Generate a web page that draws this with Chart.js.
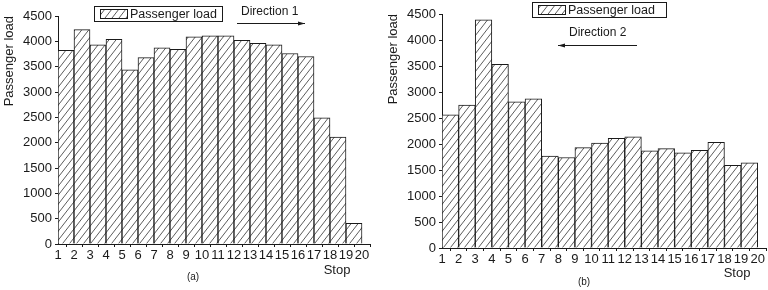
<!DOCTYPE html>
<html>
<head>
<meta charset="utf-8">
<script src="https://cdn.jsdelivr.net/npm/chart.js@4.4.1/dist/chart.umd.min.js"></script>
<style>
  html, body { margin: 0; padding: 0; background: #fff; }
  #wrap { position: relative; width: 768px; height: 290px; }
  .panel { position: absolute; top: 0; width: 384px; height: 290px; }
</style>
</head>
<body>
<div id="wrap">
  <div class="panel" style="left:0"><canvas id="dir1" width="384" height="290"></canvas></div>
  <div class="panel" style="left:384px"><canvas id="dir2" width="384" height="290"></canvas></div>
</div>
<script>
// stops along the route (x ticks), one bar per segment between stops
var stops = [1, 2, 3, 4, 5, 6, 7, 8, 9, 10, 11, 12, 13, 14, 15, 16, 17, 18, 19, 20];
var yTicks = [0, 500, 1000, 1500, 2000, 2500, 3000, 3500, 4000, 4500];

// passenger load per segment
var loadDir1 = [3820, 4230, 3930, 4040, 3440, 3680, 3870, 3840, 4090, 4110,
                4110, 4020, 3960, 3930, 3760, 3700, 2490, 2110, 410];
var loadDir2 = [2560, 2750, 4390, 3530, 2810, 2870, 1770, 1740, 1930, 2020,
                2110, 2140, 1870, 1910, 1830, 1880, 2030, 1590, 1640];

var FONT = '"Liberation Sans", Arial, sans-serif';
var INK = "#1a1a1a";

Chart.defaults.font.family = FONT;
Chart.defaults.font.size = 13;
Chart.defaults.color = INK;

// "////" hatch fill, a bit steeper than 45 degrees
function hatchPattern() {
  var w = 7, h = 9;
  var c = document.createElement("canvas");
  c.width = w;
  c.height = h;
  var g = c.getContext("2d");
  g.fillStyle = "#fff";
  g.fillRect(0, 0, w, h);
  g.strokeStyle = "#4a4a4a";
  g.lineWidth = 0.9;
  g.beginPath();
  g.moveTo(0, h); g.lineTo(w, 0);
  g.moveTo(-w, h); g.lineTo(w, -h);
  g.moveTo(0, 2 * h); g.lineTo(2 * w, 0);
  g.stroke();
  return g.createPattern(c, "repeat");
}

// legend, direction arrow, "Stop" and caption
var decorPlugin = {
  id: "decor",
  afterDraw: function (chart, args, o) {
    var ctx = chart.ctx;
    ctx.save();
    ctx.strokeStyle = INK;
    ctx.fillStyle = INK;
    ctx.lineWidth = 1;

    // legend box
    var L = o.legend;
    ctx.strokeRect(L.x + 0.5, L.y + 0.5, L.w, L.h);
    ctx.fillStyle = hatchPattern();
    ctx.fillRect(L.x + 6, L.y + 3, 27, L.h - 6);
    ctx.strokeRect(L.x + 6.5, L.y + 3.5, 27, L.h - 6);
    ctx.fillStyle = INK;
    ctx.font = "12.5px " + FONT;
    ctx.textBaseline = "middle";
    ctx.textAlign = "left";
    ctx.fillText("Passenger load", L.x + 36, L.y + L.h / 2 + 1);

    // direction text + arrow
    var D = o.dir;
    ctx.font = "12px " + FONT;
    ctx.fillText(D.text, D.tx, D.ty);
    ctx.beginPath();
    ctx.moveTo(D.x0, D.ay + 0.5);
    ctx.lineTo(D.x1, D.ay + 0.5);
    ctx.stroke();
    var s = D.x1 > D.x0 ? 1 : -1;
    ctx.beginPath();
    ctx.moveTo(D.x1, D.ay + 0.5);
    ctx.lineTo(D.x1 - s * 7, D.ay - 1.5);
    ctx.lineTo(D.x1 - s * 7, D.ay + 2.5);
    ctx.closePath();
    ctx.fill();

    // axis name and panel caption
    ctx.font = "13px " + FONT;
    ctx.textAlign = "center";
    ctx.fillText("Stop", o.stop.x, o.stop.y);
    ctx.font = "10px " + FONT;
    ctx.fillText(o.caption.text, o.caption.x, o.caption.y);
    ctx.restore();
  }
};

function createChart(canvasId, values, pad, xAxisHeight, decor) {
  var ctx = document.getElementById(canvasId).getContext("2d");
  var points = values.map(function (v, i) {
    return { x: stops[i] + 0.5, y: v };
  });
  return new Chart(ctx, {
    type: "bar",
    data: {
      datasets: [{
        label: "Passenger load",
        data: points,
        backgroundColor: hatchPattern(),
        borderColor: INK,
        borderWidth: 1,
        barPercentage: 1,
        categoryPercentage: 1
      }]
    },
    plugins: [decorPlugin],
    options: {
      responsive: false,
      animation: false,
      devicePixelRatio: 1,
      layout: { padding: pad },
      plugins: {
        legend: { display: false },
        tooltip: { enabled: false },
        decor: decor
      },
      scales: {
        x: {
          type: "linear",
          offset: false,
          min: stops[0],
          max: stops[stops.length - 1] + 0.5,
          afterFit: function (scale) { scale.height = xAxisHeight; },
          ticks: {
            stepSize: 1,
            includeBounds: false,
            autoSkip: false,
            maxRotation: 0,
            padding: 1,
            color: INK
          },
          grid: { display: true, drawOnChartArea: false, tickLength: 3, color: INK },
          border: { color: INK, width: 1 }
        },
        y: {
          min: yTicks[0],
          max: yTicks[yTicks.length - 1],
          afterFit: function (scale) { scale.width = 58; },
          ticks: {
            stepSize: 250,
            padding: 3,
            color: INK,
            callback: function (v) { return yTicks.indexOf(v) >= 0 ? v : ""; }
          },
          grid: { display: true, drawOnChartArea: false, tickLength: 3, color: INK },
          border: { color: INK, width: 1 },
          title: {
            display: true,
            text: "Passenger load",
            align: "end",
            padding: { top: 2, bottom: 0 },
            font: { size: 13 },
            color: INK
          }
        }
      }
    }
  });
}

createChart("dir1", loadDir1, { top: 16, right: 14, left: 0, bottom: 0 }, 46, {
  legend: { x: 94, y: 6, w: 128, h: 15 },
  dir: { text: "Direction 1", tx: 241, ty: 12, x0: 237, x1: 305, ay: 23 },
  stop: { x: 337, y: 270 },
  caption: { text: "(a)", x: 193, y: 277 }
});

createChart("dir2", loadDir2, { top: 14, right: 2, left: 0, bottom: 0 }, 42, {
  legend: { x: 148, y: 2, w: 134, h: 15 },
  dir: { text: "Direction 2", tx: 185, ty: 33, x0: 253, x1: 174, ay: 45 },
  stop: { x: 353, y: 273 },
  caption: { text: "(b)", x: 200, y: 282 }
});
</script>
</body>
</html>
